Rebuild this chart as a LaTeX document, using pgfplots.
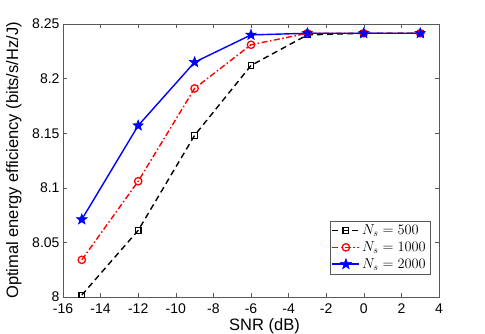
\documentclass[border=0pt]{standalone}
\usepackage{fontspec}
\setmainfont{Liberation Sans}
\usepackage{pgfplots}
\pgfplotsset{compat=1.18}

% filled five-point star like MATLAB's pentagram
\pgfdeclareplotmark{pentagram}{%
  \pgfpathmoveto{\pgfpointpolar{90}{\pgfplotmarksize}}%
  \pgfpathlineto{\pgfpointpolar{126}{0.42\pgfplotmarksize}}%
  \pgfpathlineto{\pgfpointpolar{162}{\pgfplotmarksize}}%
  \pgfpathlineto{\pgfpointpolar{198}{0.42\pgfplotmarksize}}%
  \pgfpathlineto{\pgfpointpolar{234}{\pgfplotmarksize}}%
  \pgfpathlineto{\pgfpointpolar{270}{0.42\pgfplotmarksize}}%
  \pgfpathlineto{\pgfpointpolar{306}{\pgfplotmarksize}}%
  \pgfpathlineto{\pgfpointpolar{342}{0.42\pgfplotmarksize}}%
  \pgfpathlineto{\pgfpointpolar{18}{\pgfplotmarksize}}%
  \pgfpathlineto{\pgfpointpolar{54}{0.42\pgfplotmarksize}}%
  \pgfpathclose
  \pgfusepathqfillstroke}

\begin{document}
\begin{tikzpicture}
\useasboundingbox (-63pt,-37pt) rectangle (422pt,297pt);
\begin{axis}[
  width=376pt, height=273pt, scale only axis,
  xmin=-16, xmax=4, ymin=8, ymax=8.25,
  xtick={-16,-14,...,4},
  xticklabels={-16,-14,-12,-10,-8,-6,-4,-2,0,2,4},
  ytick={8,8.05,8.1,8.15,8.2,8.25},
  yticklabels={8,8.05,8.1,8.15,8.2,8.25},
  tick align=inside, tick pos=both,
  xticklabel pos=bottom, yticklabel pos=left,
  major tick length=4pt,
  axis line style={black!65},
  every tick/.style={black!65},
  tick label style={font=\fontsize{14}{16}\selectfont},
  xticklabel style={yshift=-3pt},
  xlabel={SNR (dB)},
  ylabel={Optimal energy efficiency (bits/s/Hz/J)},
  label style={font=\fontsize{16.5}{18}\selectfont},
  xlabel style={at={(axis description cs:0.536,0)}, anchor=north, yshift=-18pt},
  ylabel style={at={(axis description cs:0,0.5)}, anchor=south, yshift=38pt},
  legend cell align=left,
  legend style={at={(rel axis cs:0.976,0.084)}, anchor=south east,
    draw=black!65, font=\fontsize{14.5}{17}\selectfont,
    inner xsep=2pt, inner ysep=2pt, row sep=1.5pt},
  legend image code/.code={
    \draw[mark repeat=2,mark phase=2,#1] plot coordinates {(0pt,0pt) (13.5pt,0pt) (27pt,0pt)};},
]
\addplot[black, line width=1.4pt, dash pattern=on 6pt off 4pt,
  mark=square, mark size=2.8pt, mark options={solid, line width=1.3pt}]
  coordinates {(-15,8.0018) (-12,8.061) (-9,8.148) (-6,8.212) (-3,8.240) (0,8.2415) (3,8.2415)};
\addlegendentry{$N_s=500$}
\addplot[red, line width=1.4pt, dash pattern=on 6pt off 2.5pt on 1.5pt off 2.5pt,
  mark=o, mark size=3.7pt, mark options={solid, line width=1.3pt}]
  coordinates {(-15,8.034) (-12,8.106) (-9,8.191) (-6,8.231) (-3,8.2415) (0,8.2415) (3,8.2415)};
\addlegendentry{$N_s=1000$}
\addplot[blue, line width=1.4pt,
  mark=pentagram, mark size=5.5pt, mark options={solid, line width=0.6pt, fill=blue}]
  coordinates {(-15,8.071) (-12,8.157) (-9,8.215) (-6,8.240) (-3,8.2415) (0,8.2415) (3,8.2415)};
\addlegendentry{$N_s=2000$}
\node[anchor=south west, inner sep=0pt, yshift=3pt, font=\fontsize{14}{16}\selectfont]
  at (rel axis cs:0,1) {×10\textsuperscript{6}};
\end{axis}
\end{tikzpicture}
\end{document}
